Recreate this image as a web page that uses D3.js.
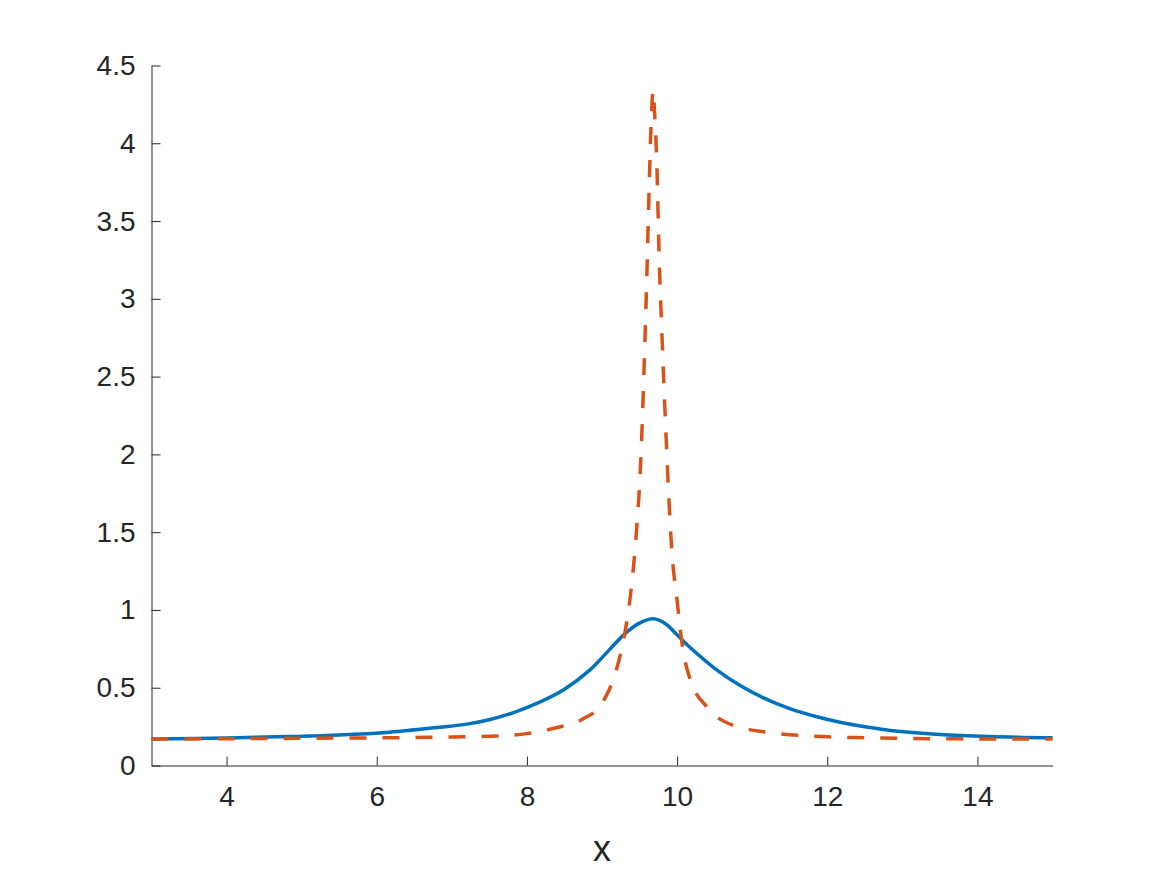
<!DOCTYPE html>
<html>
<head>
<meta charset="utf-8">
<script src="https://cdn.jsdelivr.net/npm/d3@7"></script>
<style>
  html, body { margin: 0; padding: 0; background: #ffffff; }
  svg text { font-family: "Liberation Sans", Arial, Helvetica, sans-serif; fill: #262626; }
</style>
</head>
<body>
<svg id="chart" width="1163" height="872"></svg>
<script>
// ---- data ----
const blueX = [3, 4, 4.84, 5.5, 6.17, 6.84, 7.2, 7.51, 7.85, 8.17, 8.5, 8.84, 9.1, 9.3, 9.5, 9.68, 9.85, 10.0, 10.17, 10.5, 10.84, 11.15, 11.51, 11.85, 12.17, 12.5, 12.84, 13.5, 14.17, 15];
const blueY = [0.171, 0.177, 0.186, 0.196, 0.214, 0.246, 0.266, 0.296, 0.345, 0.407, 0.49, 0.615, 0.745, 0.845, 0.915, 0.943, 0.91, 0.84, 0.76, 0.625, 0.514, 0.435, 0.364, 0.315, 0.278, 0.249, 0.225, 0.199, 0.186, 0.178];

const redX = [3, 4, 5, 6, 7, 7.6, 8, 8.4, 8.75, 9.0, 9.2, 9.3, 9.37, 9.45, 9.52, 9.56, 9.6, 9.63, 9.66, 9.68, 9.7, 9.73, 9.76, 9.8, 9.85, 9.93, 10.0, 10.08, 10.17, 10.4, 10.75, 11.2, 11.64, 12.53, 13.86, 15];
const redY = [0.170, 0.172, 0.175, 0.178, 0.183, 0.19, 0.205, 0.244, 0.30, 0.40, 0.63, 0.84, 1.06, 1.45, 2.0, 2.55, 3.2, 3.75, 4.2, 4.34, 4.2, 3.87, 3.29, 2.75, 2.15, 1.38, 1.06, 0.74, 0.56, 0.375, 0.257, 0.214, 0.193, 0.178, 0.171, 0.170];

const xTicks = [4, 6, 8, 10, 12, 14];
const yTicks = [0, 0.5, 1, 1.5, 2, 2.5, 3, 3.5, 4, 4.5];
const xDomain = [3, 15];
const yDomain = [0, 4.5];
const xLabel = "x";

// ---- layout ----
const svg = d3.select("#chart");
const mLeft = 151.5, mRight = 1052.5, mTop = 65.5, mBottom = 765.5;
const axisColor = "#262626";

const x = d3.scaleLinear().domain(xDomain).range([mLeft, mRight]);
const y = d3.scaleLinear().domain(yDomain).range([mBottom, mTop]);

const fmt = d => String(d);

// x axis
const gx = svg.append("g").attr("transform", `translate(0,${mBottom})`)
  .call(d3.axisBottom(x).tickValues(xTicks).tickFormat(fmt).tickSizeInner(-9).tickSizeOuter(0).tickPadding(21));
gx.select(".domain").attr("stroke", axisColor).attr("stroke-width", 1);
gx.selectAll(".tick line").attr("stroke", axisColor).attr("stroke-width", 1);
gx.selectAll(".tick text").attr("font-size", 28).attr("fill", axisColor)
  .attr("font-family", "Liberation Sans, Arial, sans-serif");

// y axis
const gy = svg.append("g").attr("transform", `translate(${mLeft},0)`)
  .call(d3.axisLeft(y).tickValues(yTicks).tickFormat(fmt).tickSizeInner(-9).tickSizeOuter(0).tickPadding(16));
gy.select(".domain").attr("stroke", axisColor).attr("stroke-width", 1);
gy.selectAll(".tick line").attr("stroke", axisColor).attr("stroke-width", 1);
gy.selectAll(".tick text").attr("font-size", 28).attr("fill", axisColor)
  .attr("font-family", "Liberation Sans, Arial, sans-serif");

// x label
svg.append("text")
  .attr("x", (mLeft + mRight) / 2)
  .attr("y", 861)
  .attr("text-anchor", "middle")
  .attr("font-size", 36)
  .attr("fill", axisColor)
  .text(xLabel);

// lines
const blueLine = d3.line().x(d => x(d[0])).y(d => y(d[1])).curve(d3.curveCatmullRom.alpha(0.5));
const redLine = d3.line().x(d => x(d[0])).y(d => y(d[1])).curve(d3.curveMonotoneX);
const blueData = blueX.map((v, i) => [v, blueY[i]]);
const redData = redX.map((v, i) => [v, redY[i]]);

svg.append("path").datum(blueData)
  .attr("d", blueLine)
  .attr("fill", "none")
  .attr("stroke", "#0072BD")
  .attr("stroke-width", 3.5);

svg.append("path").datum(redData)
  .attr("d", redLine)
  .attr("fill", "none")
  .attr("stroke", "#D95319")
  .attr("stroke-width", 3.5)
  .attr("stroke-dasharray", "17,16");
</script>
</body>
</html>
